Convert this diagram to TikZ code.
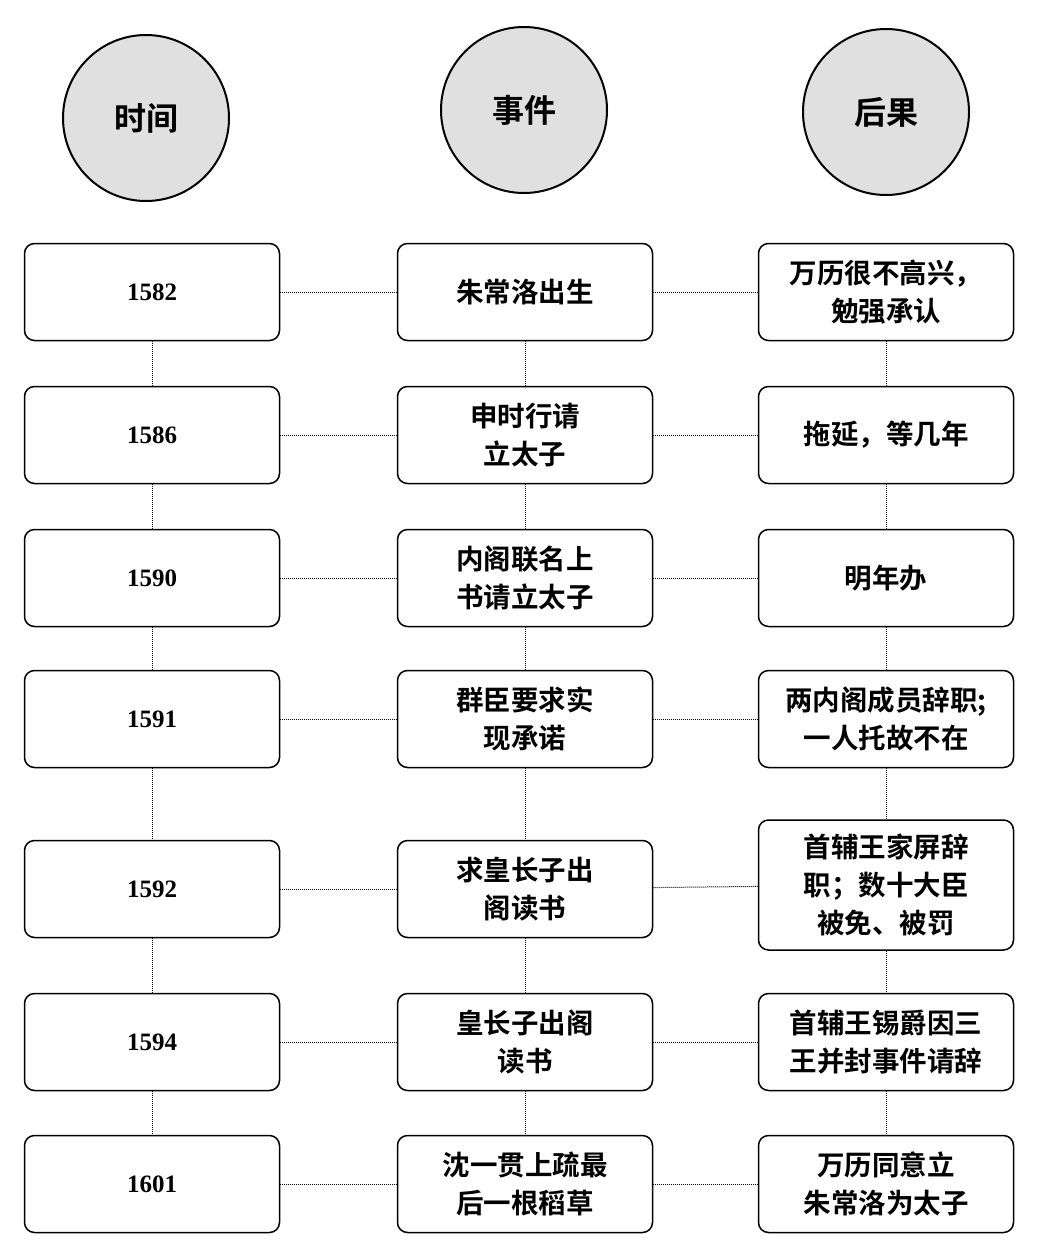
\documentclass[tikz,border=0pt]{standalone}
\usepackage{fontspec}
\setmainfont{Liberation Serif}
\newfontfamily\cjk{Noto Sans CJK SC Bold}
\begin{document}
\begin{tikzpicture}[x=1pt,y=-1pt,
  head/.style={circle,draw,line width=2pt,fill=black!12,minimum size=166pt,font=\cjk\fontsize{32}{36}\selectfont},
  box/.style={draw,line width=1.5pt,rounded corners=10pt,minimum width=255pt,minimum height=97pt,align=center,font=\cjk\fontsize{27.5}{38}\selectfont},
  yr/.style={box,font=\bfseries\fontsize{25}{28}\selectfont},
  link/.style={densely dotted,line width=1pt}]
\useasboundingbox (0,0) rectangle (1038,1256);
\node[head] (h1) at (146,118) {时间};
\node[head] (h2) at (524,110) {事件};
\node[head] (h3) at (886,112) {后果};
\foreach \y/\a/\b/\c [count=\i] in {
 292/1582/朱常洛出生/{万历很不高兴，\\勉强承认},
 435/1586/{申时行请\\立太子}/{拖延，等几年},
 578/1590/{内阁联名上\\书请立太子}/{明年办},
 719/1591/{群臣要求实\\现承诺}/{两内阁成员辞职;\\一人托故不在},
 889/1592/{求皇长子出\\阁读书}/{首辅王家屏辞\\职；数十大臣\\被免、被罚},
 1042/1594/{皇长子出阁\\读书}/{首辅王锡爵因三\\王并封事件请辞},
 1184/1601/{沈一贯上疏最\\后一根稻草}/{万历同意立\\朱常洛为太子}}{
  \node[yr] (a\i) at (152,\y) {\a};
  \node[box] (b\i) at (525,\y) {\b};
  \ifnum\i=5
   \node[box,minimum height=130pt] (c\i) at (886,885) {\c};
  \else
   \node[box] (c\i) at (886,\y) {\c};
  \fi
  \draw[link] (a\i) -- (b\i);
  \draw[link] (b\i) -- (c\i);
}
\foreach \i [evaluate=\i as \j using int(\i+1)] in {1,...,6}{
  \draw[link] (a\i) -- (a\j);
  \draw[link] (b\i) -- (b\j);
  \draw[link] (c\i) -- (c\j);
}
\end{tikzpicture}
\end{document}
